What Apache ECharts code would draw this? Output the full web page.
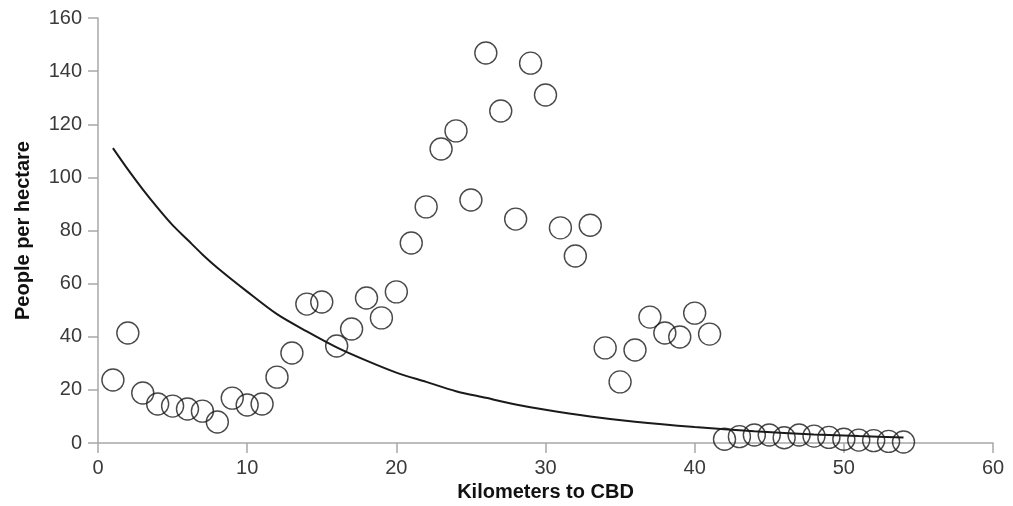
<!DOCTYPE html>
<html>
<head>
<meta charset="utf-8">
<script src="https://cdn.jsdelivr.net/npm/echarts@6/dist/echarts.min.js"></script>
<style>
  html, body { margin: 0; padding: 0; background: #fff; }
  #chart { width: 1013px; height: 506px; }
</style>
</head>
<body>
<div id="chart"></div>
<script>
// observed densities, one per km from the CBD
const distanceKm = [1, 2, 3, 4, 5, 6, 7, 8, 9, 10, 11, 12, 13, 14, 15, 16, 17, 18,
  19, 20, 21, 22, 23, 24, 25, 26, 27, 28, 29, 30, 31, 32, 33, 34, 35, 36, 37, 38,
  39, 40, 41, 42, 43, 44, 45, 46, 47, 48, 49, 50, 51, 52, 53, 54];
const density = [23.7, 41.4, 18.8, 14.7, 13.9, 12.8, 12.0, 7.9, 16.9, 14.3, 14.7, 24.8,
  33.9, 52.3, 53.1, 36.5, 42.9, 54.6, 47.1, 56.9, 75.3, 88.9, 110.7, 117.5, 91.5,
  146.8, 125.0, 84.3, 143.0, 131.0, 81.0, 70.4, 82.0, 35.8, 23.0, 35.0, 47.4, 41.4,
  39.9, 48.9, 41.0, 1.4, 2.4, 3.0, 3.0, 2.0, 3.0, 2.6, 2.1, 1.4, 1.1, 0.9, 0.6, 0.4];

// fitted curve
const curveKm = [1, 2, 3, 4, 5, 6, 7, 8, 10, 12, 14, 16, 18, 20, 22, 24, 26, 28, 30,
  33, 36, 40, 44, 48, 51, 54];
const curveDensity = [111, 103, 95.5, 88.5, 82, 76.5, 71, 66, 57, 48.5, 42, 36, 31, 26.5,
  23, 19.5, 17, 14.5, 12.5, 10, 8, 6, 4.4, 3.2, 2.6, 2.1];

const xTicks = [0, 10, 20, 30, 40, 50, 60];
const yTicks = [0, 20, 40, 60, 80, 100, 120, 140, 160];

const chart = echarts.init(document.getElementById('chart'));

const axisGray = '#a8a8a8';
const labelColor = '#3a3a3a';
const font = 'Liberation Sans, Arial, sans-serif';

chart.setOption({
  animation: false,
  grid: { left: 98, right: 20, top: 18, bottom: 63, outerBoundsMode: 'none' },
  xAxis: {
    type: 'value',
    min: xTicks[0],
    max: xTicks[xTicks.length - 1],
    interval: 10,
    name: 'Kilometers to CBD',
    nameLocation: 'middle',
    nameGap: 36,
    nameTextStyle: { fontFamily: font, fontSize: 20, fontWeight: 'bold', color: '#111' },
    axisLine: { lineStyle: { color: axisGray, width: 1.5 } },
    axisTick: { show: true, length: 10, lineStyle: { color: axisGray, width: 1.5 } },
    axisLabel: { fontFamily: font, fontSize: 20, color: labelColor, margin: 15 },
    splitLine: { show: false }
  },
  yAxis: {
    type: 'value',
    min: yTicks[0],
    max: yTicks[yTicks.length - 1],
    interval: 20,
    name: 'People per hectare',
    nameLocation: 'middle',
    nameGap: 65,
    nameTextStyle: { fontFamily: font, fontSize: 20, fontWeight: 'bold', color: '#111' },
    axisLine: { show: true, lineStyle: { color: axisGray, width: 1.5 } },
    axisTick: { show: true, length: 10, lineStyle: { color: axisGray, width: 1.5 } },
    axisLabel: { fontFamily: font, fontSize: 20, color: labelColor, margin: 16 },
    splitLine: { show: false }
  },
  series: [
    {
      type: 'line',
      data: curveKm.map((x, i) => [x, curveDensity[i]]),
      smooth: 0.3,
      showSymbol: false,
      lineStyle: { color: '#1a1a1a', width: 2 },
      z: 3
    },
    {
      type: 'scatter',
      data: distanceKm.map((x, i) => [x, density[i]]),
      symbol: 'circle',
      symbolSize: 22,
      itemStyle: { color: 'rgba(0,0,0,0)', borderColor: '#1a1a1a', borderWidth: 1.4 },
      z: 2
    }
  ]
});
</script>
</body>
</html>
